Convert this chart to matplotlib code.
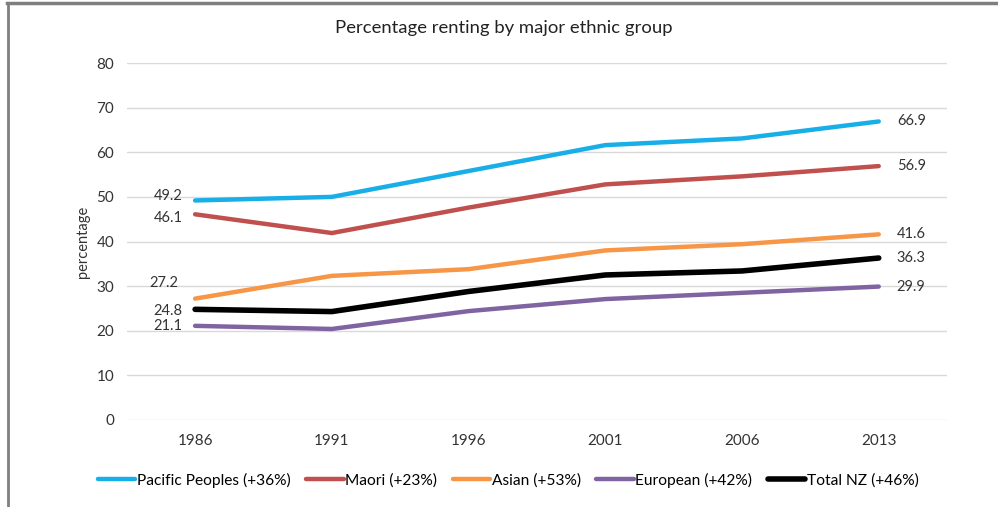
import matplotlib.pyplot as plt
from matplotlib.lines import Line2D

plt.rcParams['font.family'] = ['Lato', 'DejaVu Sans']

years = ['1986', '1991', '1996', '2001', '2006', '2013']

pacific = [49.2, 50.0, 55.8, 61.6, 63.1, 66.9]
maori = [46.1, 41.9, 47.6, 52.8, 54.6, 56.9]
asian = [27.2, 32.3, 33.8, 38.0, 39.4, 41.6]
european = [21.1, 20.4, 24.4, 27.1, 28.5, 29.9]
total_nz = [24.8, 24.3, 28.8, 32.5, 33.4, 36.3]

series_names = ['Pacific Peoples (+36%)', 'Maori (+23%)', 'Asian (+53%)',
                'European (+42%)', 'Total NZ (+46%)']
series_values = [pacific, maori, asian, european, total_nz]
colors = ['#18aee8', '#c0504d', '#f79646', '#8064a2', '#000000']
widths = [3.2, 3.2, 3.2, 3.2, 4.0]

# label offsets (points) for first / last values
left_offsets = [(-9, 3), (-9, -3), (-12, 11), (-9, 0), (-9, -1)]


def main():
    fig = plt.figure(figsize=(9.98, 5.07), dpi=100)
    ax = fig.add_axes([0.127, 0.1716, 0.822, 0.7041])

    x = list(range(len(years)))
    for name, vals, c, lw, off in zip(series_names, series_values, colors, widths, left_offsets):
        ax.plot(x, vals, color=c, lw=lw, label=name, solid_capstyle='round', zorder=3)
        ax.annotate(f'{vals[0]:.1f}', (x[0], vals[0]), xytext=off, textcoords='offset points',
                    ha='right', va='center', fontsize=10.5, color='#333333')
        ax.annotate(f'{vals[-1]:.1f}', (x[-1], vals[-1]), xytext=(13, 0), textcoords='offset points',
                    ha='left', va='center', fontsize=10.5, color='#333333')

    ax.set_xlim(-0.5, 5.5)
    ax.set_ylim(0, 80)
    ax.set_yticks(range(0, 81, 10))
    ax.set_xticks(x)
    ax.set_xticklabels(years)
    ax.grid(axis='y', color='#d9d9d9', lw=1)
    ax.set_axisbelow(True)
    for s in ax.spines.values():
        s.set_visible(False)
    ax.tick_params(length=0, labelsize=11, labelcolor='#333333')
    ax.tick_params(axis='y', pad=9)
    ax.tick_params(axis='x', pad=10)
    ax.set_ylabel('percentage', fontsize=10.5, color='#333333', labelpad=5)

    fig.text(0.505, 0.945, 'Percentage renting by major ethnic group',
             ha='center', va='center', fontsize=13.3, color='#222222')

    ax.legend(loc='center', bbox_to_anchor=(0.465, -0.168), ncol=5, frameon=False,
              fontsize=11.2, handlelength=2.4, handletextpad=0.1, columnspacing=1.0)

    # frame on top and left
    fig.add_artist(Line2D([0.007, 1], [0.995, 0.995], color='#7f7f7f', lw=2.5, transform=fig.transFigure))
    fig.add_artist(Line2D([0.008, 0.008], [0, 0.995], color='#7f7f7f', lw=2, transform=fig.transFigure))

    fig.savefig('out.png', dpi=100)


if __name__ == '__main__':
    main()
